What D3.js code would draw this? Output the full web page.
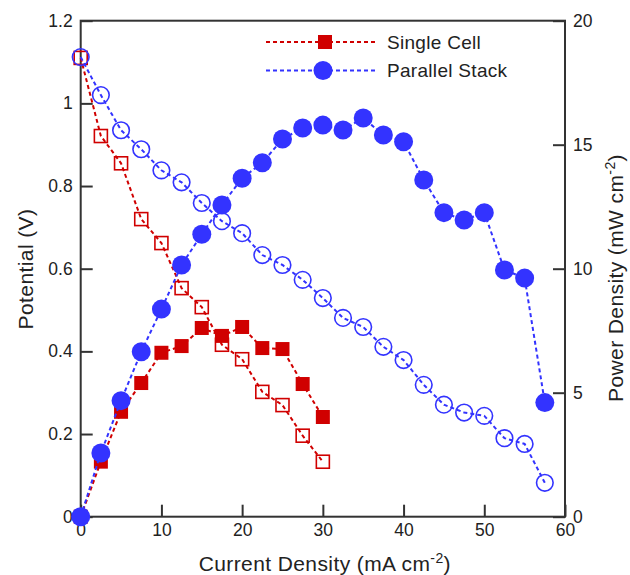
<!DOCTYPE html>
<meta charset="utf-8" />
<style>
  body { margin: 0; background: #fff; }
  text { font-family: "Liberation Sans", Arial, sans-serif; fill: #222; }
</style>
<svg width="630" height="575"></svg>
<script src="https://d3js.org/d3.v7.min.js"></script>
<script>
    var svg = d3.select("svg");

    // current density (mA cm-2)
    var singleI = [0, 2.5, 5, 7.5, 10, 12.5, 15, 17.5, 20, 22.5, 25, 27.5, 30];
    var singleV = [1.110, 0.921, 0.855, 0.720, 0.662, 0.553, 0.507, 0.416, 0.381, 0.302, 0.270, 0.196, 0.133];
    var singleP = [0, 2.22, 4.23, 5.39, 6.61, 6.88, 7.61, 7.29, 7.65, 6.80, 6.76, 5.35, 4.02];

    var stackI = [0, 2.5, 5, 7.5, 10, 12.5, 15, 17.5, 20, 22.5, 25, 27.5, 30, 32.5, 35, 37.5, 40, 42.5, 45, 47.5, 50, 52.5, 55, 57.5];
    var stackV = [1.112, 1.020, 0.935, 0.889, 0.838, 0.809, 0.759, 0.715, 0.686, 0.633, 0.609, 0.573, 0.529, 0.481, 0.459, 0.411, 0.379, 0.319, 0.271, 0.252, 0.244, 0.190, 0.176, 0.082];
    var stackP = [0, 2.57, 4.68, 6.65, 8.37, 10.15, 11.39, 12.57, 13.65, 14.27, 15.23, 15.67, 15.79, 15.59, 16.08, 15.39, 15.12, 13.58, 12.26, 11.96, 12.26, 9.95, 9.62, 4.60];

    var xTicks = [0, 10, 20, 30, 40, 50, 60];
    var yLeftTicks = [0, 0.2, 0.4, 0.6, 0.8, 1, 1.2];
    var yRightTicks = [0, 5, 10, 15, 20];

    var red = "#d00000", blue = "#3333ff";
    // plot box (note: "top" is reserved on window, so use pTop etc.)
    var pLeft = 80.7, pRight = 565, pTop = 20.7, pBottom = 516.7;

    var x = d3.scaleLinear().domain([0, 60]).range([pLeft, pRight]);
    var yL = d3.scaleLinear().domain([0, 1.2]).range([pBottom, pTop]);
    var yR = d3.scaleLinear().domain([0, 20]).range([pBottom, pTop]);

    // frame
    svg.append("rect")
        .attr("x", pLeft).attr("y", pTop)
        .attr("width", pRight - pLeft).attr("height", pBottom - pTop)
        .attr("fill", "none").attr("stroke", "#333").attr("stroke-width", 2);

    // axes, ticks pointing inward
    function styleAxis(g) {
        g.select(".domain").remove();
        g.selectAll(".tick line").attr("stroke", "#333").attr("stroke-width", 2);
        g.selectAll(".tick text").style("font-size", "17.5px").attr("fill", "#222");
    }
    svg.append("g").attr("transform", "translate(0," + pBottom + ")")
        .call(d3.axisBottom(x).tickValues(xTicks).tickSize(-12).tickPadding(7).tickFormat(d3.format("d")))
        .call(styleAxis);
    svg.append("g").attr("transform", "translate(" + pLeft + ",0)")
        .call(d3.axisLeft(yL).tickValues(yLeftTicks).tickSize(-12).tickPadding(8).tickFormat(function (d) { return String(+d.toFixed(1)); }))
        .call(styleAxis);
    svg.append("g").attr("transform", "translate(" + pRight + ",0)")
        .call(d3.axisRight(yR).tickValues(yRightTicks).tickSize(-12).tickPadding(8))
        .call(styleAxis);

    // axis titles
    svg.append("text").attr("x", (pLeft + pRight) / 2 + 2).attr("y", 571)
        .attr("text-anchor", "middle").style("font-size", "21px").style("letter-spacing", "0.4px")
        .html('Current Density (mA cm<tspan dy="-8" style="font-size:14px">-2</tspan><tspan dy="8">)</tspan>');
    svg.append("text").attr("transform", "translate(33,269) rotate(-90)")
        .attr("text-anchor", "middle").style("font-size", "21px").style("letter-spacing", "0.4px").text("Potential (V)");
    svg.append("text").attr("transform", "translate(623,278) rotate(-90)")
        .attr("text-anchor", "middle").style("font-size", "21px").style("letter-spacing", "0.4px")
        .html('Power Density (mW cm<tspan dy="-8" style="font-size:14px">-2</tspan><tspan dy="8">)</tspan>');

    function series(I, vals, yScale, color, shape, filled) {
        var pts = I.map(function (d, i) { return [x(d), yScale(vals[i])]; });
        var g = svg.append("g");
        g.append("path").attr("d", d3.line()(pts))
            .attr("fill", "none").attr("stroke", color)
            .attr("stroke-width", 2).attr("stroke-dasharray", "4,3");
        var m;
        if (shape === "square") {
            var s = filled ? 14 : 13;
            m = g.selectAll("rect").data(pts).enter().append("rect")
                .attr("x", function (d) { return d[0] - s / 2; })
                .attr("y", function (d) { return d[1] - s / 2; })
                .attr("width", s).attr("height", s);
        } else {
            m = g.selectAll("circle").data(pts).enter().append("circle")
                .attr("cx", function (d) { return d[0]; })
                .attr("cy", function (d) { return d[1]; })
                .attr("r", filled ? 9.5 : 8.3);
        }
        if (filled) m.attr("fill", color);
        else m.attr("fill", "none").attr("stroke", color).attr("stroke-width", 1.6);
    }

    series(singleI, singleV, yL, red, "square", false);
    series(stackI, stackV, yL, blue, "circle", false);
    series(singleI, singleP, yR, red, "square", true);
    series(stackI, stackP, yR, blue, "circle", true);

    // legend
    var legend = [
        { name: "Single Cell", color: red, shape: "square", y: 42 },
        { name: "Parallel Stack", color: blue, shape: "circle", y: 70.5 }
    ];
    legend.forEach(function (l) {
        svg.append("line").attr("x1", 266).attr("x2", 378).attr("y1", l.y).attr("y2", l.y)
            .attr("stroke", l.color).attr("stroke-width", 2).attr("stroke-dasharray", "4,3");
        if (l.shape === "square")
            svg.append("rect").attr("x", 325 - 7).attr("y", l.y - 7).attr("width", 14).attr("height", 14).attr("fill", l.color);
        else
            svg.append("circle").attr("cx", 323).attr("cy", l.y).attr("r", 9.5).attr("fill", l.color);
        svg.append("text").attr("x", 387).attr("y", l.y + 6.5).style("font-size", "19px").style("letter-spacing", "0.3px").text(l.name);
    });
</script>
